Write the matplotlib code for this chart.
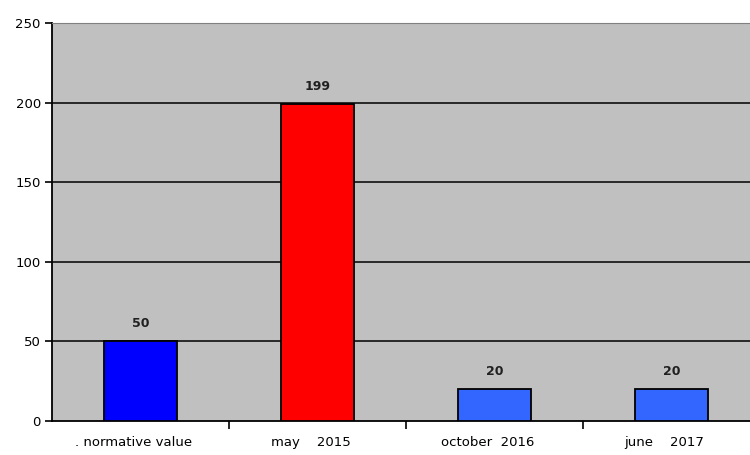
import numpy as np
import matplotlib.pyplot as plt

categories = [". normative value", "may    2015", "october  2016", "june    2017"]
values = [50, 199, 20, 20]
colors = ["#0000FF", "#FF0000", "#3366FF", "#3366FF"]

plt.rcParams['font.family'] = ['DejaVu Sans']

fig = plt.figure(figsize=(7.5, 4.55), dpi=100)
ax = fig.add_axes([0.0693, 0.0747, 0.944, 0.8747])
ax.set_facecolor("#C0C0C0")

x = np.arange(len(categories))
ax.bar(x, values, width=0.41, color=colors, edgecolor="black", linewidth=1.3, zorder=3)

for xi, v in zip(x, values):
    ax.text(xi, v + 7, str(v), ha="center", va="bottom", fontsize=9,
            fontweight="bold", color="#202020")

ax.set_xlim(-0.5, len(categories) - 0.5)
ax.set_ylim(0, 250)
ax.set_yticks([0, 50, 100, 150, 200, 250])
ax.tick_params(axis="y", labelsize=9.5, length=5, width=1.2, direction="out", pad=3)

for g in [50, 100, 150, 200]:
    ax.axhline(g, color="black", linewidth=1.1, zorder=2)

# ticks at category boundaries, labels centered
ax.set_xticks(x[:-1] + 0.5)
ax.set_xticklabels([])
ax.set_xticks(x - 0.04, minor=True)
ax.set_xticklabels(categories, minor=True, fontsize=9.5)
ax.tick_params(axis="x", which="major", length=6, width=1.2, direction="out")
ax.tick_params(axis="x", which="minor", length=0, pad=11)

ax.spines["top"].set_color("#808080")
ax.spines["right"].set_visible(False)
ax.spines["left"].set_color("black")
ax.spines["left"].set_linewidth(1.3)
ax.spines["bottom"].set_color("black")
ax.spines["bottom"].set_linewidth(1.3)

fig.savefig("out.png", dpi=100)
